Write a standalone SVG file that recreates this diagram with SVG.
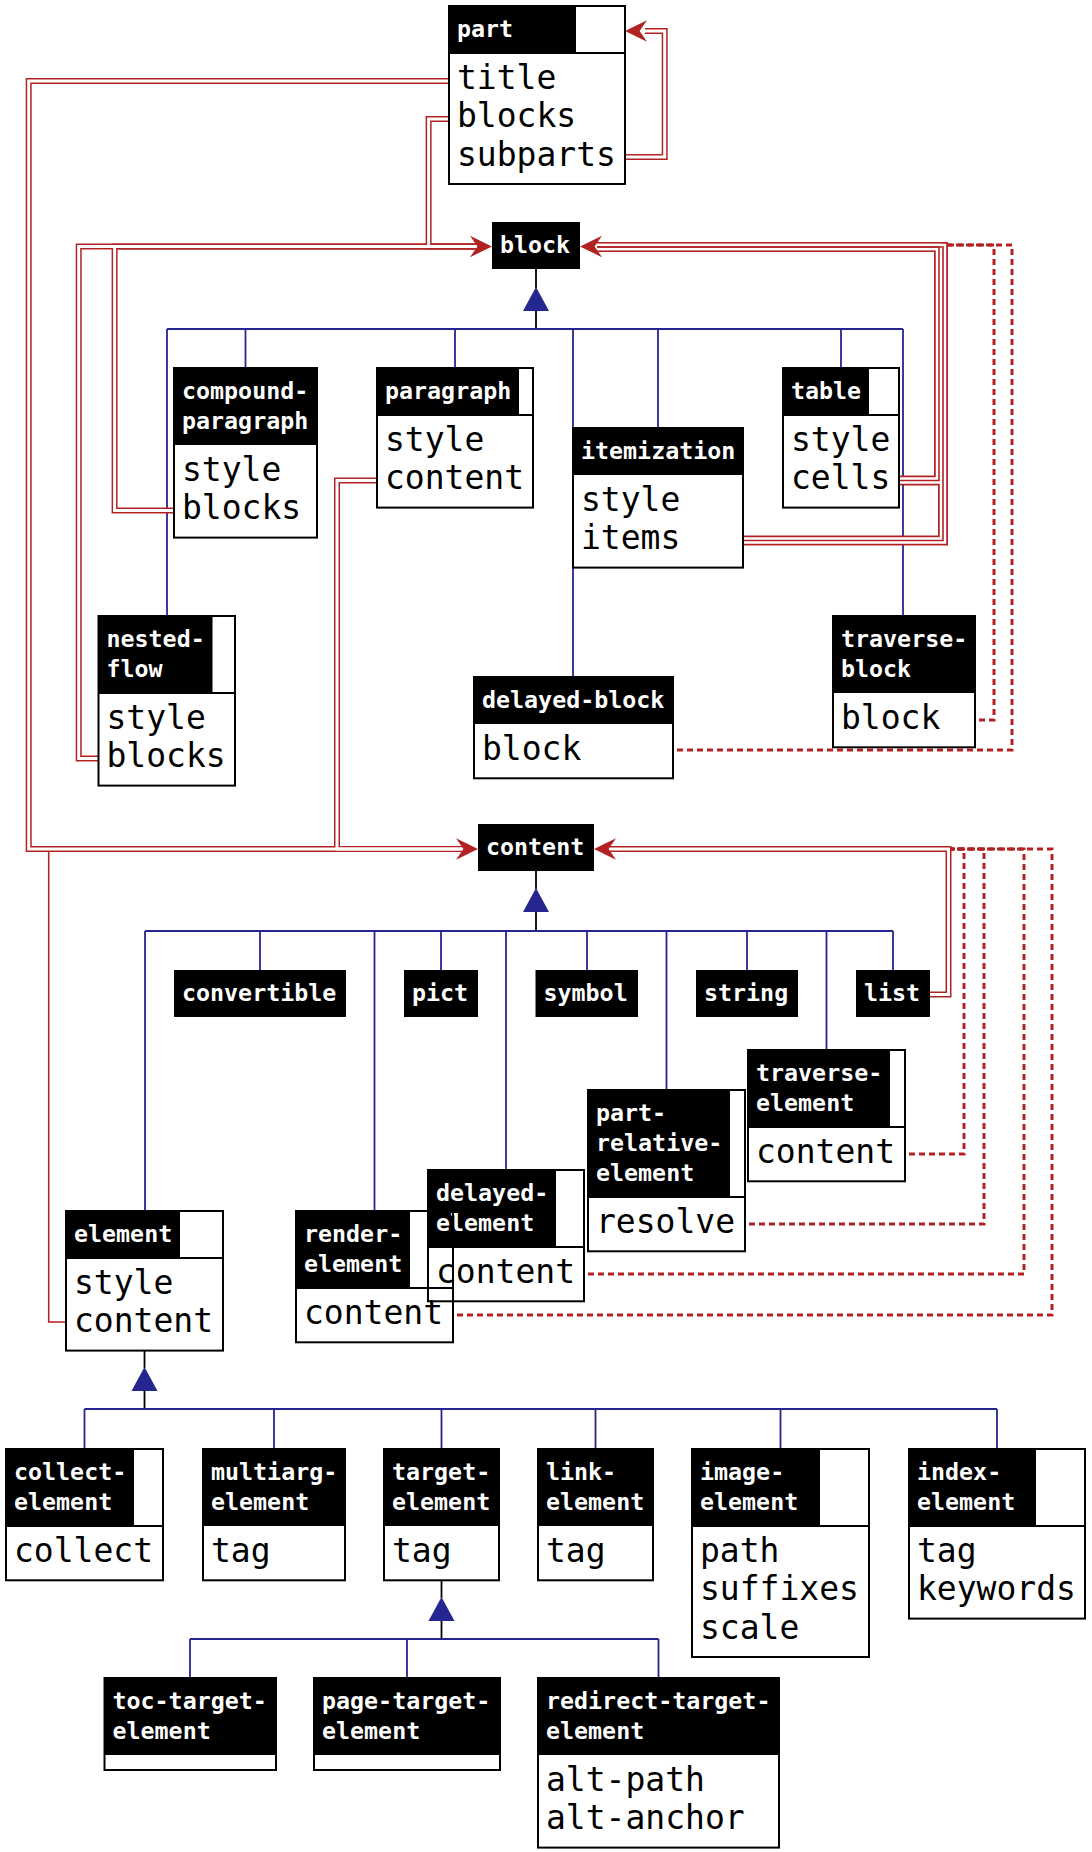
<svg xmlns="http://www.w3.org/2000/svg" width="1092" height="1852" viewBox="0 0 1092 1852">
<style>
.box{fill:none;stroke:#000;stroke-width:2}
.sep{stroke:#000;stroke-width:2}
.hdr{fill:#000}
.ht{font-family:'DejaVu Sans Mono',monospace;font-weight:bold;font-size:23.3px;fill:#fff}
.ft{font-family:'DejaVu Sans Mono',monospace;font-size:33px;fill:#000}
.gen{stroke:#262690;stroke-width:1.8;fill:none}
.stem{stroke:#000;stroke-width:1.8;fill:none}
.tri{fill:#262690}
.ro{stroke:#b22222;stroke-width:6;fill:none}
.wi{stroke:#fff;stroke-width:3;fill:none}
.to{stroke:#b22222;stroke-width:10;fill:none}
.tw{stroke:#fff;stroke-width:6.5;fill:none}
.tc{stroke:#b22222;stroke-width:1.6;fill:none}
.dot{stroke:#b22222;stroke-width:3;stroke-dasharray:6 4;fill:none}
.sgl{stroke:#b22222;stroke-width:1.6;fill:none}
.ah{fill:#b22222}
</style>
<defs>
<path id="ah" d="M0,0 L-22,-10.7 L-14.6,0 L-22,10.7 Z"/>
</defs>
<rect width="1092" height="1852" fill="#fff"/>

<g id="connectors">
 <g id="generalization">
  <line class="stem" x1="536" y1="269" x2="536" y2="288"/>
  <polygon class="tri" points="536,287 523,311 549,311"/>
  <line class="stem" x1="536" y1="311" x2="536" y2="329"/>
  <path class="gen" d="M167,329 H903 M167,329 V616 M245.5,329 V368 M455,329 V368 M573,329 V677 M658,329 V428 M841,329 V368 M903,329 V616"/>

  <line class="stem" x1="536" y1="871" x2="536" y2="889"/>
  <polygon class="tri" points="536,888 523,912 549,912"/>
  <line class="stem" x1="536" y1="912" x2="536" y2="931"/>
  <path class="gen" d="M145,931 H893 M145,931 V1211 M260,931 V970 M374.5,931 V1211 M441,931 V970 M506,931 V1170 M587,931 V970 M666.5,931 V1090 M747,931 V970 M826.5,931 V1050 M893,931 V970"/>

  <line class="stem" x1="144.5" y1="1350" x2="144.5" y2="1368"/>
  <polygon class="tri" points="144.5,1367 131.5,1391 157.5,1391"/>
  <line class="stem" x1="144.5" y1="1391" x2="144.5" y2="1409"/>
  <path class="gen" d="M84.5,1409 H997 M84.5,1409 V1449 M274,1409 V1449 M441.5,1409 V1449 M595.5,1409 V1449 M780.5,1409 V1449 M997,1409 V1449"/>

  <line class="stem" x1="441.5" y1="1580" x2="441.5" y2="1598"/>
  <polygon class="tri" points="441.5,1597 428.5,1621 454.5,1621"/>
  <line class="stem" x1="441.5" y1="1621" x2="441.5" y2="1639"/>
  <path class="gen" d="M190,1639 H658.5 M190,1639 V1678 M407,1639 V1678 M658.5,1639 V1678"/>
 </g>
 <g id="references">
  <!-- dotted single references -->
  <path class="dot" d="M979,720 H994 V245 H597"/>
  <path class="dot" d="M677,750 H1012 V245 H597"/>
  <path class="dot" d="M909,1154 H964 V849 H610"/>
  <path class="dot" d="M749,1224 H984 V849 H610"/>
  <path class="dot" d="M588,1274 H1024 V849 H610"/>
  <path class="dot" d="M457,1315 H1052 V849 H610"/>
  <!-- single reference -->
  <path class="sgl" d="M66,1322 H48.7 V851"/>
  <!-- triple references -->
  <path class="to" d="M899,480.5 H939 V247 H597"/>
  <path class="to" d="M743,540.5 H943 V247 H597"/>
  <path class="tw" d="M899,480.5 H939 V247 H597"/>
  <path class="tw" d="M743,540.5 H943 V247 H597"/>
  <path class="tc" d="M899,480.5 H939 V247 H597"/>
  <path class="tc" d="M743,540.5 H943 V247 H597"/>
  <!-- double references -->
  <path class="ro" d="M625,157 H664.7 V31 H645"/>
  <path class="ro" d="M449,81 H28.7 V849 H462"/>
  <path class="ro" d="M449,119 H428.6 V246.5 H476"/>
  <path class="ro" d="M174,510.5 H114.6 V246.5 H476"/>
  <path class="ro" d="M98.5,758.5 H78.7 V246.5 H476"/>
  <path class="ro" d="M377,480.5 H337 V849 H462"/>
  <path class="ro" d="M930,994.5 H948.5 V849 H610"/>
  <path class="wi" d="M625,157 H664.7 V31 H645"/>
  <path class="wi" d="M449,81 H28.7 V849 H462"/>
  <path class="wi" d="M449,119 H428.6 V246.5 H476"/>
  <path class="wi" d="M174,510.5 H114.6 V246.5 H476"/>
  <path class="wi" d="M98.5,758.5 H78.7 V246.5 H476"/>
  <path class="wi" d="M377,480.5 H337 V849 H462"/>
  <path class="wi" d="M930,994.5 H948.5 V849 H610"/>
 </g>
 <g id="arrowheads">
  <use href="#ah" class="ah" transform="translate(625,31) rotate(180)"/>
  <use href="#ah" class="ah" transform="translate(492,246.5)"/>
  <use href="#ah" class="ah" transform="translate(580,246.5) rotate(180)"/>
  <use href="#ah" class="ah" transform="translate(478,849)"/>
  <use href="#ah" class="ah" transform="translate(594,849) rotate(180)"/>
 </g>
</g>

<g id="nodes">
 <g id="part">
  <rect class="box" x="449" y="6" width="176" height="178"/>
  <line class="sep" x1="449" y1="53" x2="625" y2="53"/>
  <rect class="hdr" x="449" y="6" width="127" height="47"/>
  <text class="ht" x="457" y="36.5">part</text>
  <text class="ft" x="457" y="89">title</text>
  <text class="ft" x="457" y="127.3">blocks</text>
  <text class="ft" x="457" y="165.6">subparts</text>
 </g>
 <g id="block">
  <rect class="hdr" x="492" y="222" width="88" height="47"/>
  <text class="ht" x="500" y="252.5">block</text>
 </g>
 <g id="compound-paragraph">
  <rect class="box" x="174" y="368" width="143" height="169.6"/>
  <rect class="hdr" x="174" y="368" width="143" height="77"/>
  <text class="ht" x="182" y="398.5">compound-</text>
  <text class="ht" x="182" y="428.5">paragraph</text>
  <text class="ft" x="182" y="481">style</text>
  <text class="ft" x="182" y="519.3">blocks</text>
 </g>
 <g id="paragraph">
  <rect class="box" x="377" y="368" width="156" height="139.6"/>
  <line class="sep" x1="377" y1="415" x2="533" y2="415"/>
  <rect class="hdr" x="377" y="368" width="142" height="47"/>
  <text class="ht" x="385" y="398.5">paragraph</text>
  <text class="ft" x="385" y="451">style</text>
  <text class="ft" x="385" y="489.3">content</text>
 </g>
 <g id="itemization">
  <rect class="box" x="573" y="428" width="170" height="139.6"/>
  <rect class="hdr" x="573" y="428" width="170" height="47"/>
  <text class="ht" x="581" y="458.5">itemization</text>
  <text class="ft" x="581" y="511">style</text>
  <text class="ft" x="581" y="549.3">items</text>
 </g>
 <g id="table">
  <rect class="box" x="783" y="368" width="116" height="139.6"/>
  <line class="sep" x1="783" y1="415" x2="899" y2="415"/>
  <rect class="hdr" x="783" y="368" width="86" height="47"/>
  <text class="ht" x="791" y="398.5">table</text>
  <text class="ft" x="791" y="451">style</text>
  <text class="ft" x="791" y="489.3">cells</text>
 </g>
 <g id="nested-flow">
  <rect class="box" x="98.5" y="616" width="136.5" height="169.6"/>
  <line class="sep" x1="98.5" y1="693" x2="235" y2="693"/>
  <rect class="hdr" x="98.5" y="616" width="114" height="77"/>
  <text class="ht" x="106.5" y="646.5">nested-</text>
  <text class="ht" x="106.5" y="676.5">flow</text>
  <text class="ft" x="106.5" y="729">style</text>
  <text class="ft" x="106.5" y="767.3">blocks</text>
 </g>
 <g id="delayed-block">
  <rect class="box" x="474" y="677" width="199" height="101.3"/>
  <rect class="hdr" x="474" y="677" width="199" height="47"/>
  <text class="ht" x="482" y="707.5">delayed-block</text>
  <text class="ft" x="482" y="760">block</text>
 </g>
 <g id="traverse-block">
  <rect class="box" x="833" y="616" width="142" height="131.3"/>
  <rect class="hdr" x="833" y="616" width="142" height="77"/>
  <text class="ht" x="841" y="646.5">traverse-</text>
  <text class="ht" x="841" y="676.5">block</text>
  <text class="ft" x="841" y="729">block</text>
 </g>
 <g id="content">
  <rect class="hdr" x="478" y="824" width="116" height="47"/>
  <text class="ht" x="486" y="854.5">content</text>
 </g>
 <g id="convertible">
  <rect class="hdr" x="174" y="970" width="172" height="47"/>
  <text class="ht" x="182" y="1000.5">convertible</text>
 </g>
 <g id="pict">
  <rect class="hdr" x="404" y="970" width="74" height="47"/>
  <text class="ht" x="412" y="1000.5">pict</text>
 </g>
 <g id="symbol">
  <rect class="hdr" x="535.5" y="970" width="102.5" height="47"/>
  <text class="ht" x="543.5" y="1000.5">symbol</text>
 </g>
 <g id="string">
  <rect class="hdr" x="696" y="970" width="102" height="47"/>
  <text class="ht" x="704" y="1000.5">string</text>
 </g>
 <g id="list">
  <rect class="hdr" x="856" y="970" width="74" height="47"/>
  <text class="ht" x="864" y="1000.5">list</text>
 </g>
 <g id="traverse-element">
  <rect class="box" x="748" y="1050" width="157" height="131.3"/>
  <line class="sep" x1="748" y1="1127" x2="905" y2="1127"/>
  <rect class="hdr" x="748" y="1050" width="142" height="77"/>
  <text class="ht" x="756" y="1080.5">traverse-</text>
  <text class="ht" x="756" y="1110.5">element</text>
  <text class="ft" x="756" y="1163">content</text>
 </g>
 <g id="part-relative-element">
  <rect class="box" x="588" y="1090" width="157" height="161.3"/>
  <line class="sep" x1="588" y1="1197" x2="745" y2="1197"/>
  <rect class="hdr" x="588" y="1090" width="142" height="107"/>
  <text class="ht" x="596" y="1120.5">part-</text>
  <text class="ht" x="596" y="1150.5">relative-</text>
  <text class="ht" x="596" y="1180.5">element</text>
  <text class="ft" x="596" y="1233">resolve</text>
 </g>
 <g id="delayed-element">
  <rect class="box" x="428" y="1170" width="156" height="131.3"/>
  <line class="sep" x1="428" y1="1247" x2="584" y2="1247"/>
  <rect class="hdr" x="428" y="1170" width="128" height="77"/>
  <text class="ht" x="436" y="1200.5">delayed-</text>
  <text class="ht" x="436" y="1230.5">element</text>
  <text class="ft" x="436" y="1283">content</text>
 </g>
 <g id="render-element">
  <rect class="box" x="296" y="1211" width="157" height="131.3"/>
  <line class="sep" x1="296" y1="1288" x2="453" y2="1288"/>
  <rect class="hdr" x="296" y="1211" width="114" height="77"/>
  <text class="ht" x="304" y="1241.5">render-</text>
  <text class="ht" x="304" y="1271.5">element</text>
  <text class="ft" x="304" y="1324">content</text>
 </g>
 <g id="element">
  <rect class="box" x="66" y="1211" width="157" height="139.6"/>
  <line class="sep" x1="66" y1="1258" x2="223" y2="1258"/>
  <rect class="hdr" x="66" y="1211" width="114" height="47"/>
  <text class="ht" x="74" y="1241.5">element</text>
  <text class="ft" x="74" y="1294">style</text>
  <text class="ft" x="74" y="1332.3">content</text>
 </g>
 <g id="collect-element">
  <rect class="box" x="6" y="1449" width="157" height="131.3"/>
  <line class="sep" x1="6" y1="1526" x2="163" y2="1526"/>
  <rect class="hdr" x="6" y="1449" width="128" height="77"/>
  <text class="ht" x="14" y="1479.5">collect-</text>
  <text class="ht" x="14" y="1509.5">element</text>
  <text class="ft" x="14" y="1562">collect</text>
 </g>
 <g id="multiarg-element">
  <rect class="box" x="203" y="1449" width="142" height="131.3"/>
  <rect class="hdr" x="203" y="1449" width="142" height="77"/>
  <text class="ht" x="211" y="1479.5">multiarg-</text>
  <text class="ht" x="211" y="1509.5">element</text>
  <text class="ft" x="211" y="1562">tag</text>
 </g>
 <g id="target-element">
  <rect class="box" x="384" y="1449" width="115" height="131.3"/>
  <rect class="hdr" x="384" y="1449" width="115" height="77"/>
  <text class="ht" x="392" y="1479.5">target-</text>
  <text class="ht" x="392" y="1509.5">element</text>
  <text class="ft" x="392" y="1562">tag</text>
 </g>
 <g id="link-element">
  <rect class="box" x="538" y="1449" width="115" height="131.3"/>
  <rect class="hdr" x="538" y="1449" width="115" height="77"/>
  <text class="ht" x="546" y="1479.5">link-</text>
  <text class="ht" x="546" y="1509.5">element</text>
  <text class="ft" x="546" y="1562">tag</text>
 </g>
 <g id="image-element">
  <rect class="box" x="692" y="1449" width="177" height="208"/>
  <line class="sep" x1="692" y1="1526" x2="869" y2="1526"/>
  <rect class="hdr" x="692" y="1449" width="128" height="77"/>
  <text class="ht" x="700" y="1479.5">image-</text>
  <text class="ht" x="700" y="1509.5">element</text>
  <text class="ft" x="700" y="1562">path</text>
  <text class="ft" x="700" y="1600.3">suffixes</text>
  <text class="ft" x="700" y="1638.6">scale</text>
 </g>
 <g id="index-element">
  <rect class="box" x="909" y="1449" width="176" height="169.6"/>
  <line class="sep" x1="909" y1="1526" x2="1085" y2="1526"/>
  <rect class="hdr" x="909" y="1449" width="127" height="77"/>
  <text class="ht" x="917" y="1479.5">index-</text>
  <text class="ht" x="917" y="1509.5">element</text>
  <text class="ft" x="917" y="1562">tag</text>
  <text class="ft" x="917" y="1600.3">keywords</text>
 </g>
 <g id="toc-target-element">
  <rect class="box" x="104.5" y="1678" width="171.5" height="92"/>
  <rect class="hdr" x="104.5" y="1678" width="171.5" height="77"/>
  <text class="ht" x="112.5" y="1708.5">toc-target-</text>
  <text class="ht" x="112.5" y="1738.5">element</text>
 </g>
 <g id="page-target-element">
  <rect class="box" x="314" y="1678" width="186" height="92"/>
  <rect class="hdr" x="314" y="1678" width="186" height="77"/>
  <text class="ht" x="322" y="1708.5">page-target-</text>
  <text class="ht" x="322" y="1738.5">element</text>
 </g>
 <g id="redirect-target-element">
  <rect class="box" x="538" y="1678" width="241" height="169.6"/>
  <rect class="hdr" x="538" y="1678" width="241" height="77"/>
  <text class="ht" x="546" y="1708.5">redirect-target-</text>
  <text class="ht" x="546" y="1738.5">element</text>
  <text class="ft" x="546" y="1791">alt-path</text>
  <text class="ft" x="546" y="1829.3">alt-anchor</text>
 </g>
</g>
</svg>
